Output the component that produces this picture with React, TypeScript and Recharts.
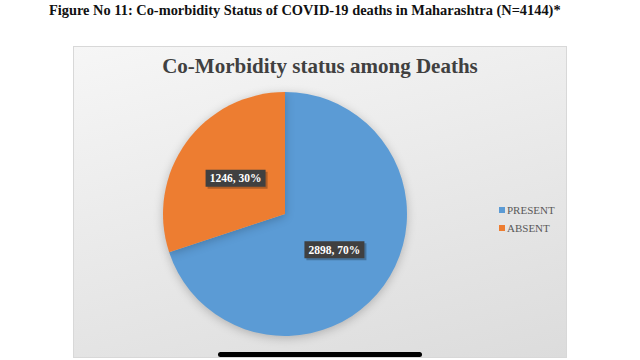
import * as React from "react";
import { PieChart, Pie, Cell, Legend } from "recharts";

const categories = ["PRESENT", "ABSENT"];
const deaths = [2898, 1246];
const percents = [70, 30];
const colors = ["#5B9BD5", "#ED7D31"];

const data = categories.map((name, i) => ({
  name,
  value: deaths[i],
  pct: percents[i],
}));

const serif = "'Liberation Serif', 'DejaVu Serif', serif";

const renderLabel = (props: any) => {
  const { cx, cy, midAngle, outerRadius, value, payload } = props;
  const RAD = Math.PI / 180;
  const r = outerRadius * 0.5;
  const x = cx + r * Math.cos(-midAngle * RAD);
  const y = cy + r * Math.sin(-midAngle * RAD);
  const w = 60;
  const h = 17;
  return (
    <g>
      <rect x={x - w / 2 + 2} y={y - h / 2 + 2} width={w} height={h} fill="rgba(0,0,0,0.25)" />
      <rect x={x - w / 2} y={y - h / 2} width={w} height={h} fill="#404040" />
      <text
        x={x}
        y={y + 4}
        textAnchor="middle"
        fill="#ffffff"
        fontFamily={serif}
        fontWeight="bold"
        fontSize={11.5}
      >
        {`${value}, ${payload.pct}%`}
      </text>
    </g>
  );
};

// legend in data order (recharts sorts the pie payload otherwise)
const renderLegend = () => (
  <div style={{ fontFamily: serif, fontSize: 11, color: "#595959" }}>
    {categories.map((name, i) => (
      <div key={name} style={{ display: "flex", alignItems: "center", height: 18 }}>
        <span
          style={{
            display: "inline-block",
            width: 6,
            height: 6,
            background: colors[i],
            marginRight: 2,
          }}
        />
        {name}
      </div>
    ))}
  </div>
);

export default function App() {
  return (
    <div
      style={{
        position: "fixed",
        left: 0,
        top: 0,
        width: 640,
        height: 360,
        background: "#ffffff",
        overflow: "hidden",
      }}
    >
      <div
        style={{
          position: "absolute",
          left: 49,
          top: 2,
          fontFamily: serif,
          fontWeight: "bold",
          fontSize: 14.4,
          color: "#111",
          whiteSpace: "nowrap",
        }}
      >
        Figure No 11: Co-morbidity Status of COVID-19 deaths in Maharashtra (N=4144)*
      </div>
      <div
        style={{
          position: "absolute",
          left: 73,
          top: 46,
          width: 494,
          height: 312,
          border: "1px solid #d8d8d8",
          boxSizing: "border-box",
          background: "linear-gradient(165deg, #f6f6f6 0%, #e9e9e9 50%, #dcdcdc 100%)",
        }}
      />
      <div
        style={{
          position: "absolute",
          left: 73,
          width: 494,
          top: 54,
          textAlign: "center",
          fontFamily: serif,
          fontWeight: "bold",
          fontSize: 21,
          color: "#404040",
        }}
      >
        Co-Morbidity status among Deaths
      </div>
      <div style={{ position: "absolute", left: 0, top: 0 }}>
        <PieChart width={640} height={360}>
          <Pie
            data={data}
            dataKey="value"
            nameKey="name"
            cx={280}
            cy={209}
            outerRadius={122}
            startAngle={90}
            endAngle={-270}
            stroke="none"
            label={renderLabel}
            labelLine={false}
            isAnimationActive={false}
          >
            {data.map((d, i) => (
              <Cell
                key={d.name}
                fill={colors[i]}
                style={{ filter: "drop-shadow(0px 2px 5px rgba(0,0,0,0.22))" }}
              />
            ))}
          </Pie>
          <Legend
            layout="vertical"
            content={renderLegend}
            wrapperStyle={{ position: "absolute", left: 499, top: 201, width: 80 }}
          />
        </PieChart>
      </div>
      <div
        style={{
          position: "absolute",
          left: 218,
          top: 352,
          width: 204,
          height: 5,
          borderRadius: 3,
          background: "#000",
        }}
      />
    </div>
  );
}
